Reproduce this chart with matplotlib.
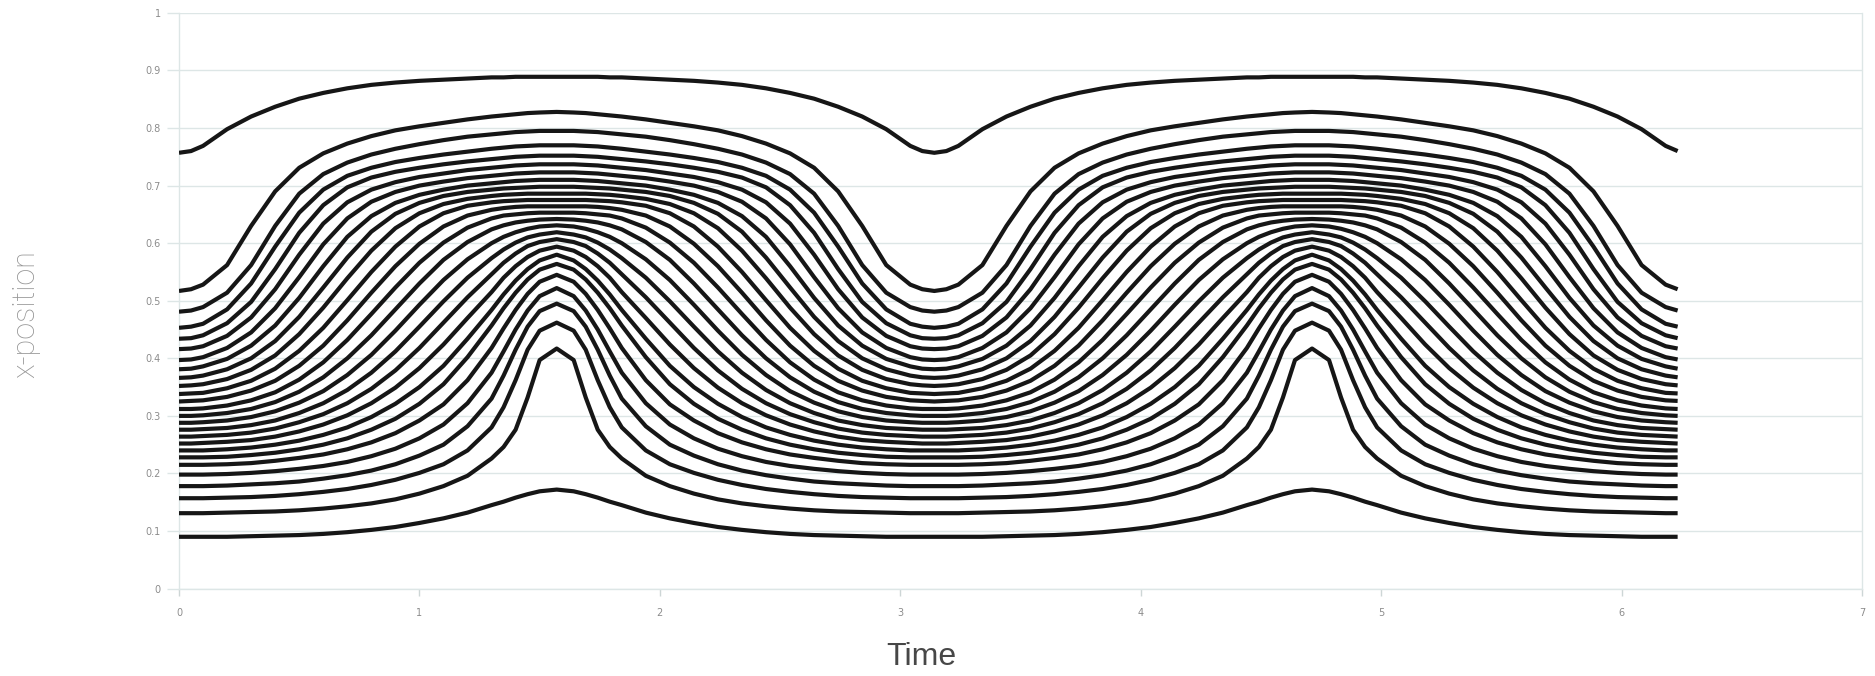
import numpy as np
import matplotlib
matplotlib.use("Agg")
from matplotlib import pyplot as plt

# time samples over the first quarter period (0 .. pi/2); the chart repeats
# each trajectory mirrored about pi/2 and again over the second half period
t_quarter = [0.0, 0.05, 0.1, 0.2, 0.3, 0.4, 0.5, 0.6, 0.7, 0.8, 0.9, 1.0,
             1.1, 1.2, 1.3, 1.35, 1.4, 1.45, 1.5, 1.571]

# x-position of each trajectory at those times, bottom to top
curve_01 = [0.090, 0.090, 0.090, 0.090, 0.091, 0.092, 0.093, 0.095, 0.098, 0.102, 0.107, 0.114, 0.122, 0.132, 0.145, 0.151, 0.158, 0.164, 0.169, 0.172]
curve_02 = [0.131, 0.131, 0.131, 0.132, 0.133, 0.134, 0.136, 0.139, 0.143, 0.148, 0.155, 0.165, 0.178, 0.196, 0.226, 0.246, 0.276, 0.332, 0.397, 0.417]
curve_03 = [0.157, 0.157, 0.157, 0.158, 0.159, 0.161, 0.164, 0.168, 0.173, 0.180, 0.189, 0.201, 0.216, 0.240, 0.280, 0.315, 0.362, 0.415, 0.448, 0.462]
curve_04 = [0.178, 0.178, 0.178, 0.179, 0.181, 0.183, 0.186, 0.191, 0.197, 0.205, 0.216, 0.231, 0.250, 0.282, 0.330, 0.370, 0.415, 0.455, 0.482, 0.495]
curve_05 = [0.198, 0.198, 0.198, 0.199, 0.201, 0.204, 0.208, 0.213, 0.220, 0.230, 0.243, 0.261, 0.285, 0.322, 0.375, 0.412, 0.450, 0.483, 0.508, 0.522]
curve_06 = [0.215, 0.215, 0.215, 0.216, 0.218, 0.222, 0.227, 0.233, 0.242, 0.254, 0.270, 0.292, 0.320, 0.362, 0.418, 0.452, 0.484, 0.512, 0.533, 0.545]
curve_07 = [0.228, 0.228, 0.228, 0.229, 0.232, 0.236, 0.242, 0.250, 0.261, 0.276, 0.295, 0.321, 0.355, 0.402, 0.457, 0.487, 0.514, 0.537, 0.554, 0.564]
curve_08 = [0.240, 0.240, 0.240, 0.242, 0.245, 0.250, 0.257, 0.267, 0.280, 0.298, 0.321, 0.350, 0.387, 0.434, 0.484, 0.511, 0.535, 0.555, 0.570, 0.580]
curve_09 = [0.252, 0.252, 0.253, 0.255, 0.258, 0.264, 0.273, 0.285, 0.301, 0.322, 0.349, 0.383, 0.424, 0.470, 0.515, 0.540, 0.560, 0.576, 0.587, 0.594]
curve_10 = [0.264, 0.264, 0.265, 0.267, 0.271, 0.278, 0.289, 0.303, 0.322, 0.347, 0.379, 0.418, 0.462, 0.506, 0.546, 0.566, 0.582, 0.595, 0.602, 0.607]
curve_11 = [0.276, 0.276, 0.277, 0.279, 0.284, 0.292, 0.305, 0.322, 0.345, 0.375, 0.412, 0.455, 0.499, 0.540, 0.574, 0.589, 0.601, 0.610, 0.615, 0.619]
curve_12 = [0.288, 0.288, 0.289, 0.292, 0.298, 0.308, 0.323, 0.343, 0.371, 0.406, 0.448, 0.493, 0.536, 0.572, 0.600, 0.611, 0.619, 0.625, 0.629, 0.631]
curve_13 = [0.300, 0.300, 0.301, 0.305, 0.312, 0.324, 0.342, 0.367, 0.400, 0.440, 0.485, 0.530, 0.571, 0.602, 0.624, 0.631, 0.636, 0.639, 0.641, 0.642]
curve_14 = [0.312, 0.312, 0.313, 0.318, 0.327, 0.341, 0.363, 0.393, 0.432, 0.477, 0.523, 0.566, 0.601, 0.627, 0.643, 0.648, 0.650, 0.652, 0.653, 0.653]
curve_15 = [0.325, 0.326, 0.327, 0.333, 0.344, 0.361, 0.387, 0.422, 0.466, 0.514, 0.560, 0.599, 0.629, 0.648, 0.658, 0.661, 0.663, 0.664, 0.664, 0.664]
curve_16 = [0.338, 0.339, 0.340, 0.348, 0.361, 0.382, 0.413, 0.453, 0.501, 0.550, 0.594, 0.629, 0.652, 0.665, 0.671, 0.673, 0.674, 0.675, 0.675, 0.675]
curve_17 = [0.352, 0.353, 0.355, 0.364, 0.380, 0.405, 0.442, 0.488, 0.539, 0.587, 0.626, 0.652, 0.668, 0.677, 0.682, 0.684, 0.685, 0.686, 0.686, 0.686]
curve_18 = [0.366, 0.367, 0.370, 0.381, 0.400, 0.430, 0.472, 0.523, 0.575, 0.620, 0.651, 0.670, 0.682, 0.689, 0.693, 0.695, 0.696, 0.697, 0.698, 0.698]
curve_19 = [0.381, 0.382, 0.386, 0.399, 0.422, 0.457, 0.505, 0.560, 0.611, 0.647, 0.670, 0.684, 0.693, 0.700, 0.704, 0.706, 0.708, 0.709, 0.710, 0.710]
curve_20 = [0.397, 0.398, 0.402, 0.418, 0.445, 0.487, 0.541, 0.598, 0.643, 0.672, 0.689, 0.700, 0.707, 0.713, 0.717, 0.719, 0.721, 0.722, 0.723, 0.723]
curve_21 = [0.416, 0.417, 0.421, 0.439, 0.471, 0.520, 0.580, 0.634, 0.671, 0.693, 0.706, 0.715, 0.721, 0.727, 0.731, 0.733, 0.735, 0.736, 0.737, 0.737]
curve_22 = [0.434, 0.435, 0.440, 0.461, 0.498, 0.555, 0.618, 0.666, 0.697, 0.714, 0.724, 0.731, 0.737, 0.742, 0.746, 0.748, 0.750, 0.751, 0.752, 0.752]
curve_23 = [0.453, 0.455, 0.460, 0.485, 0.530, 0.594, 0.653, 0.693, 0.717, 0.731, 0.741, 0.748, 0.754, 0.759, 0.764, 0.766, 0.768, 0.769, 0.770, 0.770]
curve_24 = [0.481, 0.483, 0.489, 0.514, 0.562, 0.630, 0.686, 0.720, 0.740, 0.754, 0.764, 0.772, 0.779, 0.785, 0.789, 0.791, 0.793, 0.794, 0.795, 0.795]
curve_25 = [0.517, 0.520, 0.528, 0.562, 0.630, 0.690, 0.731, 0.756, 0.773, 0.786, 0.796, 0.803, 0.809, 0.815, 0.820, 0.822, 0.824, 0.826, 0.827, 0.828]
curve_26 = [0.757, 0.760, 0.769, 0.798, 0.820, 0.837, 0.851, 0.861, 0.869, 0.875, 0.879, 0.882, 0.884, 0.886, 0.888, 0.888, 0.889, 0.889, 0.889, 0.889]

curves = [curve_01, curve_02, curve_03, curve_04, curve_05, curve_06, curve_07,
          curve_08, curve_09, curve_10, curve_11, curve_12, curve_13, curve_14,
          curve_15, curve_16, curve_17, curve_18, curve_19, curve_20, curve_21,
          curve_22, curve_23, curve_24, curve_25, curve_26]

y_ticks = [0, 0.1, 0.2, 0.3, 0.4, 0.5, 0.6, 0.7, 0.8, 0.9, 1]
y_labels = ["0", "0.1", "0.2", "0.3", "0.4", "0.5", "0.6", "0.7", "0.8", "0.9", "1"]
x_ticks = [0, 1, 2, 3, 4, 5, 6, 7]


def full_period(times, values):
    tq = np.array(times)
    vq = np.array(values)
    t = np.concatenate([tq, np.pi - tq[-2::-1], np.pi + tq[1:], 2 * np.pi - tq[-2:0:-1]])
    v = np.concatenate([vq, vq[-2::-1], vq[1:], vq[-2:0:-1]])
    return t, v


W, H = 1875, 676
fig = plt.figure(figsize=(W / 100, H / 100), dpi=100)
ax = fig.add_axes([179 / W, 1 - 588.6 / H, (1862 - 179) / W, (588.6 - 12.9) / H])

grid_color = "#dde6e6"
for c in curves:
    t, v = full_period(t_quarter, c)
    ax.plot(t, v, color="#161616", lw=3.0, solid_joinstyle="round",
            solid_capstyle="butt", zorder=3)

ax.set_xlim(0, 7)
ax.set_ylim(0, 1)
ax.set_yticks(y_ticks)
ax.set_yticklabels(y_labels)
ax.set_xticks(x_ticks)
ax.grid(axis="y", color=grid_color, lw=1.0, zorder=0)
ax.spines["top"].set_visible(False)
for side in ["left", "right", "bottom"]:
    ax.spines[side].set_color(grid_color)
    ax.spines[side].set_linewidth(1.0)
ax.tick_params(axis="y", length=9, width=1.0, color=grid_color, pad=4,
               labelsize=7, labelcolor="#8c8c8c")
ax.tick_params(axis="x", length=5, width=1.0, color="#cdd6d6", pad=9,
               labelsize=7, labelcolor="#8c8c8c")

fig.text(921 / W, 1 - 657 / H, "Time", ha="center", va="center",
         fontsize=23, color="#474747", family=["Liberation Sans", "DejaVu Sans"])
fig.text(26 / W, 1 - 314 / H, "x-position", ha="center", va="center", rotation=90,
         fontsize=22, color="#959595", fontweight="light",
         family=["Roboto", "DejaVu Sans"])

fig.savefig("out.png", dpi=100)
